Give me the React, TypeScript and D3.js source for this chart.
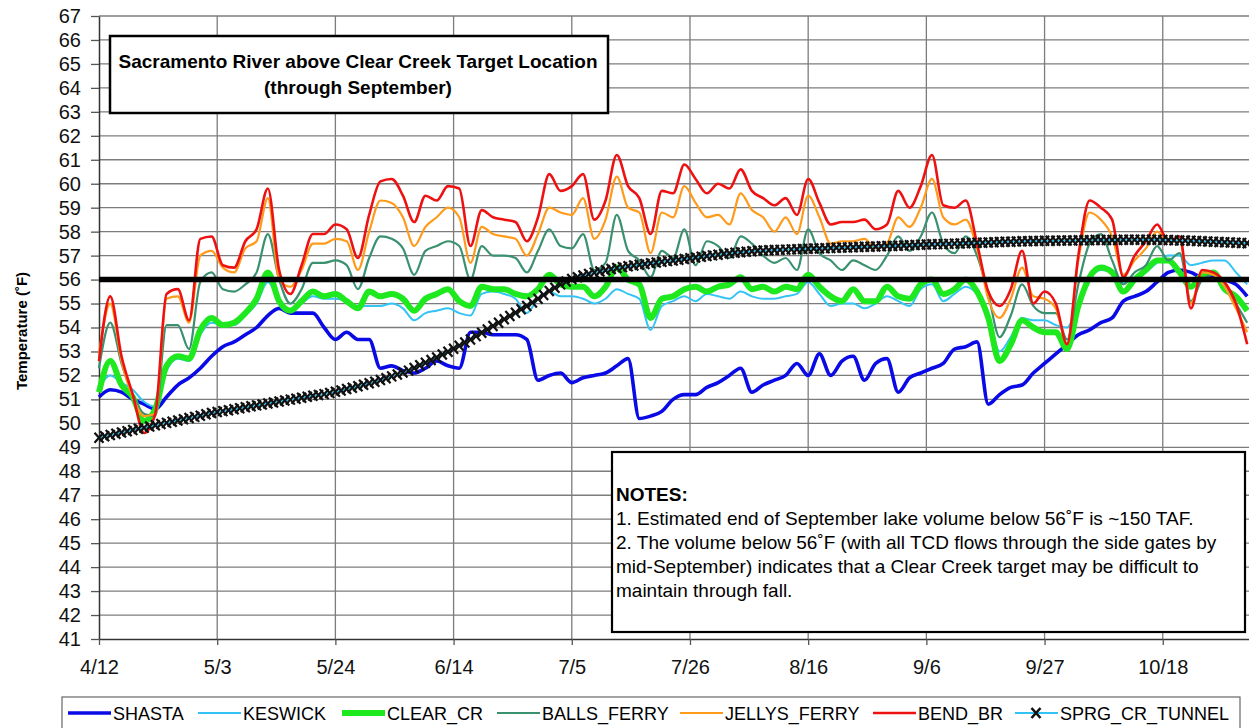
import { useRef, useEffect } from "react";
import * as d3 from "d3";

const W = 1249;
const H = 728;

// x axis: days after 4/12
const tickDays = [0, 21, 42, 63, 84, 105, 126, 147, 168, 189];
const tickLabels = ["4/12", "5/3", "5/24", "6/14", "7/5", "7/26", "8/16", "9/6", "9/27", "10/18"];
const sampleDays = d3.range(0, 205, 2); // every 2nd day
const sprgDays = d3.range(0, 205); // daily

const targetTemp = 56;

const shasta = [
  51.1, 51.4, 51.3, 51.0, 50.8, 50.6, 51.1, 51.6, 51.9, 52.3,
  52.8, 53.2, 53.4, 53.7, 54.0, 54.5, 54.8, 54.6, 54.6, 54.6,
  54.0, 53.5, 53.8, 53.5, 53.5, 52.3, 52.4, 52.2, 52.1, 52.3,
  52.6, 52.4, 52.3, 53.8, 53.8, 53.7, 53.7, 53.7, 53.5, 51.8,
  52.0, 52.1, 51.7, 51.9, 52.0, 52.1, 52.4, 52.7, 50.2, 50.3,
  50.5, 51.0, 51.2, 51.2, 51.5, 51.7, 52.0, 52.3, 51.3, 51.6,
  51.8, 52.0, 52.5, 52.0, 52.9, 52.0, 52.6, 52.8, 51.8, 52.5,
  52.7, 51.3, 51.9, 52.1, 52.3, 52.5, 53.1, 53.2, 53.4, 50.8,
  51.2, 51.5, 51.6, 52.1, 52.5, 52.9, 53.3, 53.7, 53.9, 54.2,
  54.4, 55.1, 55.3, 55.5, 55.9, 56.3, 56.4, 56.3, 56.1, 56.1,
  56.0, 55.8, 55.3,
];

const keswick = [
  51.5, 52.0, 51.7, 51.4, 50.9, 50.7, 52.2, 52.7, 52.6, 53.7,
  54.2, 54.1, 54.1, 54.5, 55.0, 55.9, 55.1, 54.7, 55.0, 55.3,
  55.2, 55.2, 55.1, 54.9, 54.9, 54.9, 55.0, 54.8, 54.3, 54.6,
  54.7, 54.8, 54.6, 54.5, 55.4, 55.5, 55.4, 55.2, 54.6, 55.2,
  55.5, 55.3, 55.3, 55.2, 55.0, 55.2, 55.6, 55.4, 55.2, 53.9,
  54.9, 55.1, 55.3, 55.1, 55.4, 55.3, 55.2, 55.5, 55.3, 55.2,
  55.2, 55.3, 55.4, 55.9, 55.4, 54.9, 55.0, 55.0, 54.8, 55.0,
  55.3, 55.1, 54.9, 55.6, 55.8, 55.1, 55.4, 55.7, 55.4, 54.6,
  53.0, 53.6, 54.4, 54.3, 54.3, 54.1, 54.0, 55.0, 56.0, 56.4,
  56.3, 55.9, 56.0, 56.3, 56.7, 57.0, 57.0, 56.6, 56.7, 56.8,
  56.8, 56.3, 55.8,
];

const clearCr = [
  51.3, 52.6, 51.6, 51.1, 50.1, 50.6, 52.4, 52.8, 52.7, 53.9,
  54.4, 54.1, 54.2, 54.6, 55.2, 56.3, 55.1, 54.7, 55.1, 55.5,
  55.3, 55.4, 55.1, 54.8, 55.5, 55.3, 55.4, 55.2, 54.7, 55.2,
  55.4, 55.6, 55.1, 54.9, 55.7, 55.6, 55.6, 55.4, 55.3, 55.6,
  56.2, 55.8, 55.7, 55.7, 55.3, 55.7, 56.5, 56.0, 55.8, 54.4,
  55.2, 55.3, 55.6, 55.7, 55.5, 55.7, 55.8, 56.1, 55.6, 55.7,
  55.5, 55.7, 55.6, 56.2, 55.7, 55.3, 55.1, 55.6, 55.1, 55.1,
  55.7, 55.3, 55.2, 55.8, 56.0, 55.4, 55.6, 56.0, 55.5, 54.4,
  52.6, 53.3, 54.3, 54.0, 53.8, 53.8, 53.1, 54.9, 56.1, 56.5,
  56.3, 55.5, 56.0, 56.4, 56.8, 56.8, 56.3, 55.7, 56.2, 56.3,
  55.6, 55.3, 54.7,
];

const ballsFerry = [
  52.3, 54.2, 52.5, 51.2, 50.4, 50.3, 54.1, 54.1, 53.1, 55.9,
  56.3, 55.6, 55.5, 55.8, 56.3, 57.9, 56.0, 55.0, 55.6, 56.7,
  56.7, 56.8, 56.6, 55.6, 56.9, 57.8, 57.7, 57.3, 56.2, 57.2,
  57.4, 57.6, 57.4, 56.0, 57.4, 57.0, 57.0, 56.9, 56.3, 57.2,
  58.1, 57.4, 57.3, 57.9, 56.4, 56.7, 58.7, 57.2, 56.8, 56.1,
  57.2, 56.9, 58.1, 56.6, 57.6, 57.4, 56.9, 57.8, 57.5, 57.0,
  56.7, 56.9, 56.4, 58.1, 57.1, 56.8, 56.4, 56.8, 56.6, 56.4,
  57.0, 57.8, 57.2, 57.8, 58.8, 57.5, 57.1, 57.8, 57.0, 55.4,
  53.6, 54.5, 55.8, 54.9, 54.6, 54.6, 53.5, 55.8, 57.5, 57.9,
  56.8, 55.8, 56.3, 56.6, 57.4, 56.8, 57.1, 55.1, 56.0, 56.2,
  55.8, 55.0, 54.2,
];

const jellysFerry = [
  52.9, 55.0, 52.6, 51.1, 50.3, 50.4, 55.2, 55.3, 54.2, 57.0,
  57.2, 56.5, 56.3, 57.3, 57.6, 59.4, 56.0, 55.7, 56.4, 57.5,
  57.5, 57.7, 57.6, 56.4, 58.0, 59.3, 59.2, 58.6, 57.4, 58.2,
  58.6, 59.0, 58.6, 56.7, 58.2, 57.9, 57.8, 57.7, 57.0, 57.9,
  59.0, 58.8, 58.7, 59.4, 57.7, 58.5, 60.3, 59.0, 58.8, 57.1,
  58.8, 58.6, 59.9, 59.2, 58.6, 58.7, 58.3, 59.6, 58.9, 58.6,
  58.0, 58.6, 57.9, 59.5, 58.6, 57.5, 57.6, 57.6, 57.7, 57.3,
  57.5, 58.6, 58.2, 59.0, 60.2, 58.6, 58.3, 58.5, 57.3, 55.2,
  54.4, 55.2, 56.5, 55.3, 55.2, 54.8, 53.3, 56.8, 58.8, 58.5,
  57.8, 56.2, 56.8, 57.3, 58.0, 57.6, 57.6, 55.0, 56.3, 56.2,
  55.7, 54.8, 53.8,
];

const bendBr = [
  52.6, 55.3, 52.8, 51.2, 49.6, 50.4, 55.4, 55.6, 54.3, 57.7,
  57.8, 56.6, 56.5, 57.6, 58.1, 59.8, 56.4, 55.4, 56.6, 57.9,
  57.9, 58.3, 58.1, 56.9, 58.7, 60.1, 60.2, 59.5, 58.4, 59.5,
  59.3, 59.9, 59.8, 57.4, 58.9, 58.6, 58.5, 58.4, 57.6, 58.6,
  60.4, 59.7, 59.9, 60.4, 58.5, 59.3, 61.2, 59.9, 59.4, 57.9,
  59.7, 59.6, 60.8, 60.2, 59.6, 60.0, 59.8, 60.6, 59.7, 59.4,
  59.1, 59.4, 58.7, 60.2, 59.2, 58.3, 58.4, 58.4, 58.5, 58.1,
  58.3, 59.7, 59.0, 59.9, 61.2, 59.1, 59.0, 59.3, 57.5, 55.5,
  54.9, 55.6, 57.2, 55.0, 55.5, 55.0, 53.3, 57.0, 59.3, 59.0,
  58.5, 56.1, 57.0, 57.6, 58.3, 57.6, 57.8, 54.8, 56.4, 56.3,
  55.9, 55.0, 53.3,
];

// daily
const sprgCrTunnel = [
  49.40, 49.46, 49.51, 49.57, 49.62, 49.67, 49.72, 49.77, 49.82, 49.87,
  49.92, 49.97, 50.02, 50.07, 50.12, 50.17, 50.22, 50.27, 50.32, 50.38,
  50.43, 50.47, 50.51, 50.55, 50.59, 50.63, 50.67, 50.71, 50.75, 50.79,
  50.83, 50.87, 50.91, 50.95, 50.99, 51.03, 51.07, 51.11, 51.15, 51.18,
  51.22, 51.27, 51.32, 51.37, 51.43, 51.49, 51.55, 51.61, 51.67, 51.74,
  51.81, 51.88, 51.96, 52.04, 52.12, 52.20, 52.31, 52.42, 52.53, 52.64,
  52.75, 52.87, 52.99, 53.11, 53.24, 53.37, 53.50, 53.64, 53.78, 53.92,
  54.06, 54.20, 54.34, 54.48, 54.62, 54.76, 54.90, 55.04, 55.20, 55.36,
  55.52, 55.66, 55.80, 55.92, 56.02, 56.10, 56.17, 56.23, 56.29, 56.34,
  56.39, 56.44, 56.48, 56.52, 56.56, 56.59, 56.62, 56.65, 56.68, 56.71,
  56.74, 56.77, 56.80, 56.83, 56.86, 56.89, 56.92, 56.95, 56.98, 57.01,
  57.04, 57.07, 57.10, 57.12, 57.14, 57.16, 57.18, 57.20, 57.21, 57.22,
  57.23, 57.24, 57.25, 57.26, 57.27, 57.28, 57.29, 57.30, 57.30, 57.31,
  57.32, 57.33, 57.34, 57.34, 57.35, 57.36, 57.37, 57.37, 57.38, 57.39,
  57.40, 57.40, 57.41, 57.42, 57.43, 57.44, 57.45, 57.46, 57.47, 57.48,
  57.48, 57.49, 57.50, 57.51, 57.52, 57.53, 57.54, 57.54, 57.55, 57.56,
  57.57, 57.58, 57.58, 57.59, 57.60, 57.60, 57.61, 57.61, 57.62, 57.62,
  57.62, 57.63, 57.63, 57.63, 57.64, 57.64, 57.64, 57.65, 57.65, 57.65,
  57.65, 57.65, 57.66, 57.66, 57.66, 57.66, 57.66, 57.66, 57.66, 57.65,
  57.65, 57.64, 57.63, 57.63, 57.62, 57.61, 57.60, 57.59, 57.58, 57.57,
  57.56, 57.55, 57.54, 57.53, 57.52,
];

const series = [
  { name: "SHASTA", days: sampleDays, values: shasta, color: "#0a0ae6", width: 3.6, lx: 68 },
  { name: "KESWICK", days: sampleDays, values: keswick, color: "#33c4f5", width: 2, lx: 198 },
  { name: "CLEAR_CR", days: sampleDays, values: clearCr, color: "#1ee81e", width: 6, lx: 342 },
  { name: "BALLS_FERRY", days: sampleDays, values: ballsFerry, color: "#3a9170", width: 2.2, lx: 497 },
  { name: "JELLYS_FERRY", days: sampleDays, values: jellysFerry, color: "#ff9a1a", width: 2.2, lx: 680 },
  { name: "BEND_BR", days: sampleDays, values: bendBr, color: "#ee1111", width: 2.6, lx: 873 },
  { name: "SPRG_CR_TUNNEL", days: sprgDays, values: sprgCrTunnel, color: "#33c4f5", width: 2, lx: 1015, marker: true },
];

const titleLines = ["Sacramento River above Clear Creek Target Location", "(through September)"];
const noteLines = [
  "1. Estimated end of September lake volume below 56˚F is ~150 TAF.",
  "2. The volume below 56˚F (with all TCD flows through the side gates by",
  "mid-September) indicates that a Clear Creek target may be difficult to",
  "maintain through fall.",
];

const FONT = "'Liberation Sans', Arial, sans-serif";
const xMark = "M-4.5,-5L4.5,5M-4.5,5L4.5,-5";

const App = () => {
  const svgRef = useRef<SVGSVGElement>(null);

  useEffect(() => {
    const svg = d3.select(svgRef.current);
    svg.selectAll("*").remove();

    const left = 99, top = 16, bottom = 639, right = 1250;

    const x = d3.scaleLinear().domain([0, 204.5]).range([left, right]);
    const y = d3.scaleLinear().domain([41, 67]).range([bottom, top]);

    svg.append("rect").attr("width", W).attr("height", H).attr("fill", "#fff");

    // gridlines
    const grid = svg.append("g").attr("stroke", "#7c7c7c").attr("stroke-width", 1.3);
    grid.selectAll(".hg")
      .data(d3.range(42, 68))
      .join("line")
      .attr("x1", left).attr("x2", right)
      .attr("y1", (d) => y(d)).attr("y2", (d) => y(d));
    grid.selectAll(".vg")
      .data(tickDays.slice(1))
      .join("line")
      .attr("x1", (d) => x(d)).attr("x2", (d) => x(d))
      .attr("y1", top).attr("y2", bottom);

    // axes
    const yAxis = svg.append("g")
      .attr("transform", `translate(${left},0)`)
      .call(d3.axisLeft(y).tickValues(d3.range(41, 68)).tickSize(8).tickSizeOuter(0).tickPadding(10).tickFormat(d3.format("d")));
    const xAxis = svg.append("g")
      .attr("transform", `translate(0,${bottom})`)
      .call(d3.axisBottom(x).tickValues(tickDays).tickSize(6).tickSizeOuter(0).tickPadding(15)
        .tickFormat((d, i) => tickLabels[i]));
    [yAxis, xAxis].forEach((a) => {
      a.selectAll("line").attr("stroke", "#555").attr("stroke-width", 1.3);
      a.select(".domain").attr("stroke", "#333").attr("stroke-width", 1.5);
      a.selectAll("text").attr("font-family", FONT).attr("font-size", 20).attr("fill", "#111");
    });

    // y title
    svg.append("text")
      .attr("transform", "translate(27,331) rotate(-90)")
      .attr("text-anchor", "middle")
      .attr("font-family", FONT).attr("font-size", 15).attr("font-weight", "bold")
      .text("Temperature (˚F)");

    // series
    const plot = svg.append("g");
    const line = d3.line<[number, number]>()
      .x((d) => x(d[0]))
      .y((d) => y(d[1]))
      .curve(d3.curveMonotoneX);

    series.forEach((s) => {
      const pts = s.days.map((d, i) => [d, s.values[i]] as [number, number]);
      plot.append("path")
        .datum(pts)
        .attr("fill", "none")
        .attr("stroke", s.color)
        .attr("stroke-width", s.width)
        .attr("stroke-linejoin", "round")
        .attr("d", line);
      if (s.marker) {
        plot.selectAll(".xm")
          .data(pts)
          .join("path")
          .attr("transform", (d) => `translate(${x(d[0])},${y(d[1])})`)
          .attr("d", xMark)
          .attr("stroke", "#111")
          .attr("stroke-width", 2.2)
          .attr("fill", "none");
      }
    });

    // 56F target line
    svg.append("line")
      .attr("x1", left).attr("x2", right)
      .attr("y1", y(targetTemp)).attr("y2", y(targetTemp))
      .attr("stroke", "#000").attr("stroke-width", 5.5);

    // title box
    const tb = svg.append("g");
    tb.append("rect").attr("x", 110).attr("y", 36).attr("width", 498).attr("height", 77)
      .attr("fill", "#fff").attr("stroke", "#000").attr("stroke-width", 2.5);
    titleLines.forEach((t, i) => {
      tb.append("text").attr("x", 358).attr("y", 68 + i * 26)
        .attr("text-anchor", "middle")
        .attr("font-family", FONT).attr("font-size", 19).attr("font-weight", "bold")
        .text(t);
    });

    // notes box
    const nb = svg.append("g");
    nb.append("rect").attr("x", 612).attr("y", 452).attr("width", 633).attr("height", 180)
      .attr("fill", "#fff").attr("stroke", "#000").attr("stroke-width", 2.2);
    nb.append("text").attr("x", 616).attr("y", 501)
      .attr("font-family", FONT).attr("font-size", 19).attr("font-weight", "bold")
      .text("NOTES:");
    noteLines.forEach((t, i) => {
      nb.append("text").attr("x", 616).attr("y", 525 + i * 24)
        .attr("font-family", FONT).attr("font-size", 19)
        .text(t);
    });

    // legend
    const lg = svg.append("g");
    lg.append("rect").attr("x", 62).attr("y", 697).attr("width", 1178).attr("height", 45)
      .attr("fill", "#fff").attr("stroke", "#666").attr("stroke-width", 1.2);
    series.forEach((s) => {
      const ly = 713;
      lg.append("line")
        .attr("x1", s.lx).attr("x2", s.lx + 43)
        .attr("y1", ly).attr("y2", ly)
        .attr("stroke", s.color).attr("stroke-width", s.width);
      if (s.marker) {
        lg.append("path").attr("transform", `translate(${s.lx + 21},${ly})`)
          .attr("d", xMark).attr("stroke", "#111").attr("stroke-width", 2.6);
      }
      lg.append("text")
        .attr("x", s.lx + 45).attr("y", ly + 6.5)
        .attr("font-family", FONT).attr("font-size", 18)
        .text(s.name);
    });
  }, []);

  return (
    <svg
      ref={svgRef}
      width={W}
      height={H}
      style={{ position: "absolute", left: 0, top: 0, display: "block" }}
    ></svg>
  );
};

export default App;
